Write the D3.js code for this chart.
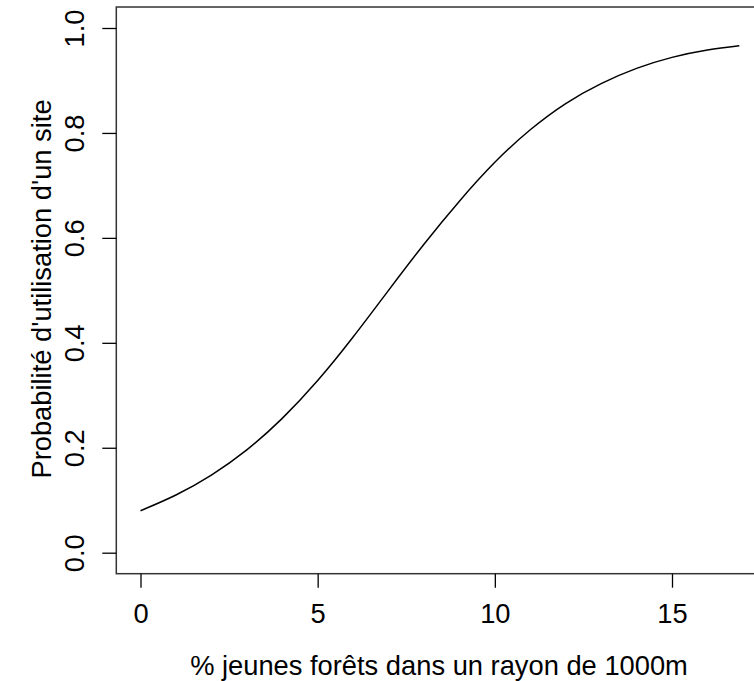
<!DOCTYPE html>
<html>
<head>
<meta charset="utf-8">
<script src="https://cdn.jsdelivr.net/npm/d3@7"></script>
<style>
  html, body { margin: 0; padding: 0; background: #fff; }
  svg { display: block; }
  text { font-family: "Liberation Sans", Arial, sans-serif; fill: #000; }
</style>
</head>
<body>
<script>
// Data
const xValues = [0, 1, 2, 3, 4, 5, 6, 7, 8, 9, 10, 11, 12, 13, 14, 15, 16, 16.9];
const probValues = [0.080, 0.110, 0.148, 0.196, 0.256, 0.328, 0.411, 0.500, 0.588, 0.670, 0.744, 0.806, 0.856, 0.894, 0.923, 0.944, 0.958, 0.966];
const xTicks = [0, 5, 10, 15];
const yTicks = [0.0, 0.2, 0.4, 0.6, 0.8, 1.0];
const xTitle = "% jeunes forêts dans un rayon de 1000m";
const yTitle = "Probabilité d'utilisation d'un site";

const W = 754, H = 681;
const svg = d3.select("body").append("svg").attr("width", W).attr("height", H);
svg.append("rect").attr("width", W).attr("height", H).attr("fill", "#fff");

const x = d3.scaleLinear().domain([0, 15]).range([140.5, 672]);
const y = d3.scaleLinear().domain([0, 1]).range([552.7, 28]);

const xMin = -0.683, xMax = 17.75;
const yMin = -0.04, yMax = 1.04;
const fs = 27.3;
const ff = '"Liberation Sans", Arial, sans-serif';

// Plot box
svg.append("rect")
  .attr("x", x(xMin)).attr("y", y(yMax))
  .attr("width", x(xMax) - x(xMin)).attr("height", y(yMin) - y(yMax))
  .attr("fill", "none").attr("stroke", "#333").attr("stroke-width", 1.5);

// X axis
const xAxis = d3.axisBottom(x).tickValues(xTicks).tickSize(14).tickPadding(0)
  .tickFormat(d3.format("d"));
const gx = svg.append("g").attr("transform", `translate(0,${y(yMin)})`).call(xAxis);
gx.select(".domain").remove();
gx.selectAll(".tick line").attr("stroke", "#000").attr("stroke-width", 1.3);
gx.selectAll(".tick text").attr("y", 0).attr("dy", 0)
  .attr("transform", `translate(0,${622.5 - y(yMin)})`)
  .style("font-size", fs + "px").style("font-family", ff).attr("fill", "#000");

// Y axis
const yAxis = d3.axisLeft(y).tickValues(yTicks).tickSize(14).tickPadding(0)
  .tickFormat(d3.format(".1f"));
const gy = svg.append("g").attr("transform", `translate(${x(xMin)},0)`).call(yAxis);
gy.select(".domain").remove();
gy.selectAll(".tick line").attr("stroke", "#000").attr("stroke-width", 1.3);
gy.selectAll(".tick text")
  .attr("x", 0).attr("dy", 0)
  .attr("text-anchor", "middle")
  .attr("transform", `translate(${83.5 - x(xMin)},0) rotate(-90)`)
  .style("font-size", fs + "px").style("font-family", ff).attr("fill", "#000");

// Curve
const line = d3.line().x((d, i) => x(xValues[i])).y(d => y(d)).curve(d3.curveNatural);
svg.append("path").datum(probValues)
  .attr("d", line)
  .attr("fill", "none").attr("stroke", "#000").attr("stroke-width", 1.5);

// Titles
svg.append("text").attr("x", 439).attr("y", 675).attr("text-anchor", "middle")
  .style("font-size", fs + "px").text(xTitle);
svg.append("text").attr("transform", `translate(50.5,289) rotate(-90)`).attr("text-anchor", "middle")
  .style("font-size", fs + "px").text(yTitle);
</script>
</body>
</html>
